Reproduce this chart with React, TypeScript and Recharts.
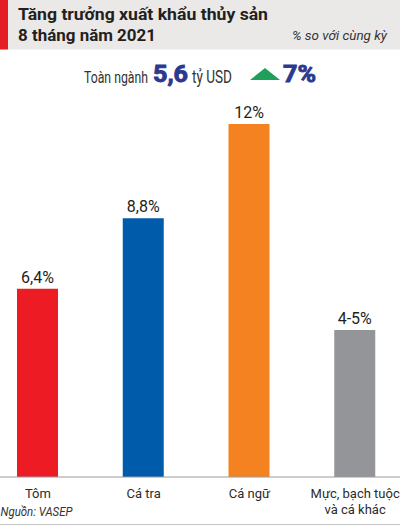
import React from 'react';
import { BarChart, Bar, XAxis, YAxis, Cell, LabelList } from 'recharts';

const categories = ['Tôm', 'Cá tra', 'Cá ngữ', 'Mực, bạch tuộc\nvà cá khác'];
const growth = [6.4, 8.8, 12, 5];
const valueLabels = ['6,4%', '8,8%', '12%', '4-5%'];
const barColors = ['#ED1C24', '#005BAA', '#F58220', '#939598'];

const titleLines = ['Tăng trưởng xuất khẩu thủy sản', '8 tháng năm 2021'];
const subtitle = '% so với cùng kỳ';
const totalLabel = 'Toàn ngành';
const totalValue = '5,6';
const totalUnit = 'tỷ USD';
const totalGrowth = '7%';
const source = 'Nguồn: VASEP';

const data = categories.map((c, i) => ({ name: c, value: growth[i], label: valueLabels[i] }));

const FONT = 'Roboto, "Noto Sans", sans-serif';

const CategoryTick = (props: any) => {
  const { x, y, payload } = props;
  const lines = String(payload.value).split('\n');
  return (
    <text x={x} y={y} textAnchor="middle" fill="#2b2b2b" fontSize={13} fontFamily={FONT}>
      {lines.map((l, i) => (
        <tspan key={i} x={x} dy={i === 0 ? 21 : 16}>{l}</tspan>
      ))}
    </text>
  );
};

export default function App() {
  return (
    <div style={{ position: 'absolute', left: 0, top: 0, width: 400, height: 526, overflow: 'hidden', background: '#fff' }}>
      <div style={{ position: 'absolute', left: -15, top: 0 }}>
        <BarChart width={423} height={526} data={data} margin={{ top: 124, right: 0, bottom: 0, left: 0 }}>
          <YAxis hide domain={[0, 12]} />
          <XAxis
            dataKey="name"
            height={49}
            interval={0}
            tickLine={false}
            tickSize={0}
            tickMargin={0}
            axisLine={{ stroke: '#9a9a9a', strokeWidth: 1 }}
            tick={<CategoryTick />}
          />
          <Bar dataKey="value" barSize={41} isAnimationActive={false}>
            {data.map((d, i) => (
              <Cell key={i} fill={barColors[i]} />
            ))}
            <LabelList dataKey="label" position="top" offset={6} fill="#231f20" fontSize={16} fontFamily={FONT} />
          </Bar>
        </BarChart>
      </div>
      <svg width={400} height={526} style={{ position: 'absolute', left: 0, top: 0, pointerEvents: 'none' }}>
        <rect x={0} y={0} width={400} height={49.5} fill="#EBE9E7" />
        <rect x={0} y={0} width={8} height={49.5} fill="#E31E24" />
        <text x={18} y={20} fontFamily={FONT} fontWeight={700} fontSize={16.8} fill="#231f20" textLength={250} lengthAdjust="spacingAndGlyphs">{titleLines[0]}</text>
        <text x={18} y={41} fontFamily={FONT} fontWeight={700} fontSize={16.8} fill="#231f20" textLength={138} lengthAdjust="spacingAndGlyphs">{titleLines[1]}</text>
        <text x={292} y={40} fontFamily={FONT} fontStyle="italic" fontSize={13} fill="#333" textLength={95} lengthAdjust="spacingAndGlyphs">{subtitle}</text>

        <text transform="translate(84,82.5) scale(1,1.38)" x={0} y={0} fontFamily={FONT} fontSize={12.3} fill="#333" textLength={64} lengthAdjust="spacingAndGlyphs">{totalLabel}</text>
        <text x={153} y={81.7} fontFamily={FONT} fontWeight={700} fontSize={23.5} fill="#2B3990" stroke="#2B3990" strokeWidth={0.9} textLength={35} lengthAdjust="spacingAndGlyphs">{totalValue}</text>
        <text transform="translate(192,82.5) scale(1,1.38)" x={0} y={0} fontFamily={FONT} fontSize={13} fill="#333" textLength={40} lengthAdjust="spacingAndGlyphs">{totalUnit}</text>
        <polygon points="250,80 265,68 280,80" fill="#1FA05A" />
        <text x={283} y={81.7} fontFamily={FONT} fontWeight={700} fontSize={23.5} fill="#2B3990" stroke="#2B3990" strokeWidth={0.9} textLength={33} lengthAdjust="spacingAndGlyphs">{totalGrowth}</text>

        <text x={0.5} y={515.5} fontFamily={FONT} fontStyle="italic" fontSize={12} fill="#333" textLength={72} lengthAdjust="spacingAndGlyphs">{source}</text>
        <line x1={0} x2={400} y1={524.5} y2={524.5} stroke="#c4c4c4" strokeWidth={1} />
      </svg>
    </div>
  );
}
